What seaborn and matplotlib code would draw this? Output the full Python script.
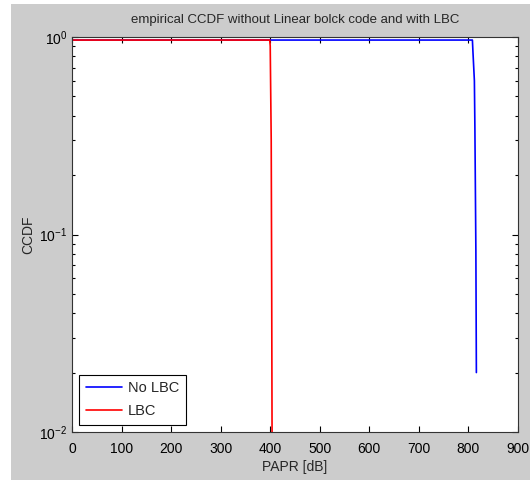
import numpy as np
import pandas as pd
import matplotlib
matplotlib.use('Agg')
import matplotlib.pyplot as plt
import seaborn as sns
from matplotlib.patches import Rectangle

# ── data ─────────────────────────────────────────────────────────────────────
papr_no_lbc = [0, 808, 809, 812, 813, 815, 816]
ccdf_no_lbc = [0.965, 0.965, 0.85, 0.6, 0.35, 0.083, 0.02]

papr_lbc = [0, 399, 400, 402, 403, 404]
ccdf_lbc = [0.965, 0.965, 0.9, 0.3, 0.05, 0.005]

series_names = ['No LBC', 'LBC']
series_colors = ['#0000ff', '#ff0000']
x_ticks = [0, 100, 200, 300, 400, 500, 600, 700, 800, 900]

df = pd.concat([
    pd.DataFrame({'PAPR': papr_no_lbc, 'CCDF': ccdf_no_lbc, 'series': 'No LBC'}),
    pd.DataFrame({'PAPR': papr_lbc, 'CCDF': ccdf_lbc, 'series': 'LBC'}),
], ignore_index=True)

# ── style ────────────────────────────────────────────────────────────────────
sns.set_style('ticks')
plt.rcParams['font.family'] = ['Liberation Sans', 'DejaVu Sans']
plt.rcParams['xtick.direction'] = 'in'
plt.rcParams['ytick.direction'] = 'in'

fig = plt.figure(figsize=(5.3, 4.8), dpi=100, facecolor='white')
# grey MATLAB-style figure panel with a thin white margin left/top
fig.patches.append(Rectangle((11 / 530, 0), 1 - 11 / 530, 1 - 4 / 480,
                             transform=fig.transFigure, facecolor='#cccccc',
                             edgecolor='none', zorder=-10))

ax = fig.add_axes([72 / 530, 1 - 432 / 480, (518 - 72) / 530, (432 - 37) / 480])
ax.set_facecolor('white')

sns.lineplot(data=df, x='PAPR', y='CCDF', hue='series', hue_order=series_names,
             palette=series_colors, sort=False, estimator=None, linewidth=1.2,
             ax=ax)

ax.set_yscale('log')
ax.set_xlim(0, 900)
ax.set_ylim(1e-2, 1)
ax.set_xticks(x_ticks)
ax.set_xticklabels([str(t) for t in x_ticks])

ax.tick_params(which='both', top=True, right=True, colors='black',
               labelsize=10, width=0.8)
ax.tick_params(which='major', length=4.5)
ax.tick_params(which='minor', length=2.5)
ax.tick_params(axis='x', which='minor', top=False, bottom=False)
ax.tick_params(axis='x', which='major', pad=7)
for side in ['left', 'right', 'top', 'bottom']:
    ax.spines[side].set_visible(True)
    ax.spines[side].set_color('#333333')
    ax.spines[side].set_linewidth(0.8)

ax.set_title('empirical CCDF without Linear bolck code and with LBC',
             fontsize=9.5, pad=10)
ax.set_xlabel('PAPR [dB]', fontsize=10, labelpad=3)
ax.set_ylabel('CCDF', fontsize=10, labelpad=3)

leg = ax.legend(loc='lower left', fontsize=10.5, frameon=True, fancybox=False,
                edgecolor='black', framealpha=1, handlelength=2.5,
                handletextpad=0.4, labelspacing=0.6, borderpad=0.45,
                borderaxespad=0.5)
leg.get_frame().set_linewidth(0.8)

plt.savefig('out.png', dpi=100, facecolor=fig.get_facecolor())
plt.close()
